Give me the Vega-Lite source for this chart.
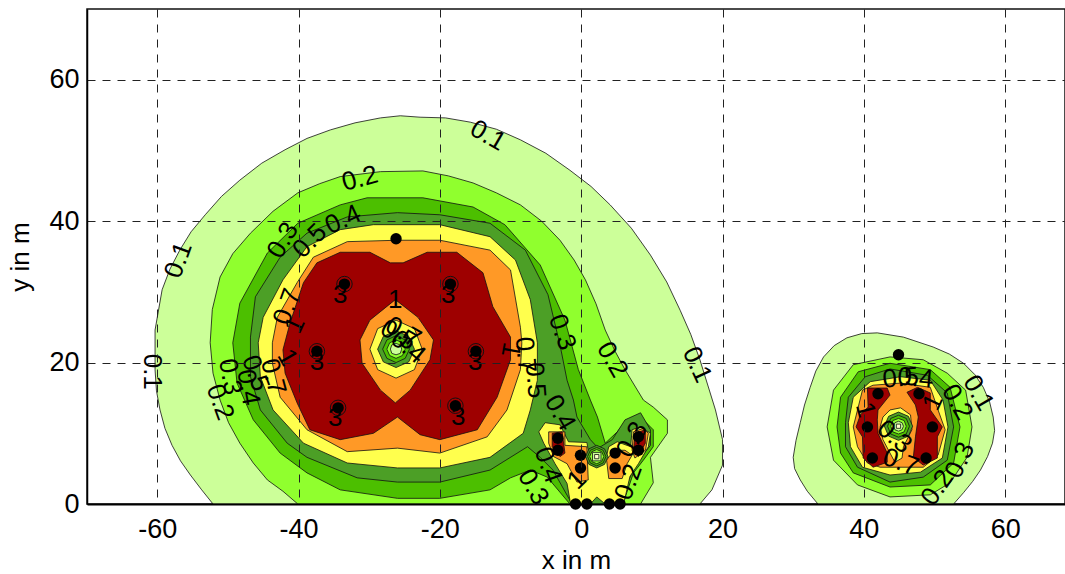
{"$schema":"https://vega.github.io/schema/vega-lite/v6.json","width":978,"height":495,"autosize":"none","padding":{"left":87,"top":9,"right":0,"bottom":70},"background":"white","view":{"stroke":"#111","strokeWidth":1.5,"fill":"white"},
"encoding":{"x":{"field":"x","type":"quantitative","scale":{"domain":[-69.93,68.46],"nice":false,"zero":false},"axis":{"values":[-60,-40,-20,0,20,40,60],"grid":true,"gridColor":"#222","gridDash":[8,7],"gridWidth":1,"ticks":false,"labelExpr":"''+datum.value","labelFontSize":27,"labelFont":"Liberation Sans","labelColor":"#000","labelPadding":12,"title":"x in m","titleFont":"Liberation Sans","titleFontSize":26,"titleFontWeight":"normal","titleColor":"#000","titlePadding":5,"domainColor":"#000","domainWidth":2,"zindex":1}},
"y":{"field":"y","type":"quantitative","scale":{"domain":[0,70],"nice":false,"zero":false},"axis":{"values":[0,20,40,60],"grid":true,"gridColor":"#222","gridDash":[8,7],"gridWidth":1,"ticks":false,"labelExpr":"''+datum.value","labelFontSize":27,"labelFont":"Liberation Sans","labelColor":"#000","labelPadding":8,"title":"y in m","titleFont":"Liberation Sans","titleFontSize":26,"titleFontWeight":"normal","titleColor":"#000","titlePadding":15,"domainColor":"#000","domainWidth":1.5,"zindex":1}}},
"layer":[
{"mark":{"type":"line","interpolate":"linear-closed","stroke":"#111","strokeWidth":0.8,"clip":false,"order":null},
"encoding":{"detail":{"field":"p"},"fill":{"field":"l","type":"nominal","legend":null,"scale":{"domain":["0.1","0.2","0.3","0.4","0.5","0.7","1","0"],"range":["#CCFF99","#90FF2E","#4CBF00","#4C9F26","#FFFF4D","#FF9926","#9E0000","#FFFFCC"]}}},
"data":{"values":[
{"p":"A1","l":"0.1","x":-52.1,"y":0},{"p":"A1","l":"0.1","x":-53.7,"y":2},{"p":"A1","l":"0.1","x":-55.3,"y":4.1},{"p":"A1","l":"0.1","x":-56.7,"y":6.1},{"p":"A1","l":"0.1","x":-57.9,"y":8.3},{"p":"A1","l":"0.1","x":-58.9,"y":10.7},{"p":"A1","l":"0.1","x":-59.6,"y":13.3},{"p":"A1","l":"0.1","x":-60.1,"y":16},{"p":"A1","l":"0.1","x":-60.3,"y":19.0},{"p":"A1","l":"0.1","x":-60.3,"y":24.6},{"p":"A1","l":"0.1","x":-59.3,"y":30.3},{"p":"A1","l":"0.1","x":-58.2,"y":33.2},{"p":"A1","l":"0.1","x":-56.8,"y":35.9},{"p":"A1","l":"0.1","x":-55.2,"y":38.5},{"p":"A1","l":"0.1","x":-53.2,"y":40.9},{"p":"A1","l":"0.1","x":-50.9,"y":43.5},{"p":"A1","l":"0.1","x":-48.3,"y":45.8},{"p":"A1","l":"0.1","x":-45.2,"y":48.2},{"p":"A1","l":"0.1","x":-41.9,"y":50.1},{"p":"A1","l":"0.1","x":-38.8,"y":51.7},{"p":"A1","l":"0.1","x":-35.5,"y":52.9},{"p":"A1","l":"0.1","x":-32,"y":53.9},{"p":"A1","l":"0.1","x":-28.4,"y":54.6},{"p":"A1","l":"0.1","x":-25.6,"y":54.9},{"p":"A1","l":"0.1","x":-22.8,"y":54.7},{"p":"A1","l":"0.1","x":-19.2,"y":54.6},{"p":"A1","l":"0.1","x":-15.7,"y":54.0},{"p":"A1","l":"0.1","x":-12,"y":53},{"p":"A1","l":"0.1","x":-8.6,"y":51.5},{"p":"A1","l":"0.1","x":-5,"y":49.6},{"p":"A1","l":"0.1","x":-1.6,"y":47.2},{"p":"A1","l":"0.1","x":1.4,"y":44.9},{"p":"A1","l":"0.1","x":4.1,"y":42.3},{"p":"A1","l":"0.1","x":7.1,"y":39},{"p":"A1","l":"0.1","x":9.8,"y":35.2},{"p":"A1","l":"0.1","x":12.1,"y":31.4},{"p":"A1","l":"0.1","x":14.0,"y":27.4},{"p":"A1","l":"0.1","x":15.5,"y":24},{"p":"A1","l":"0.1","x":16.8,"y":20.4},{"p":"A1","l":"0.1","x":19.0,"y":13.3},{"p":"A1","l":"0.1","x":20.0,"y":9.1},{"p":"A1","l":"0.1","x":20.0,"y":5.5},{"p":"A1","l":"0.1","x":18.5,"y":2.0},{"p":"A1","l":"0.1","x":16.8,"y":0},
{"p":"A2","l":"0.2","x":-40.1,"y":0},{"p":"A2","l":"0.2","x":-42.2,"y":1.8},{"p":"A2","l":"0.2","x":-44.4,"y":3.4},{"p":"A2","l":"0.2","x":-46.4,"y":5.8},{"p":"A2","l":"0.2","x":-48.3,"y":8.6},{"p":"A2","l":"0.2","x":-49.9,"y":11.5},{"p":"A2","l":"0.2","x":-51.1,"y":14.7},{"p":"A2","l":"0.2","x":-52.1,"y":18.5},{"p":"A2","l":"0.2","x":-52.5,"y":22.8},{"p":"A2","l":"0.2","x":-52.2,"y":27.5},{"p":"A2","l":"0.2","x":-51.1,"y":32.1},{"p":"A2","l":"0.2","x":-49.3,"y":35.4},{"p":"A2","l":"0.2","x":-46.8,"y":38.3},{"p":"A2","l":"0.2","x":-43.6,"y":41.4},{"p":"A2","l":"0.2","x":-40.1,"y":44.0},{"p":"A2","l":"0.2","x":-37,"y":45.3},{"p":"A2","l":"0.2","x":-34.1,"y":46.3},{"p":"A2","l":"0.2","x":-28.4,"y":47.0},{"p":"A2","l":"0.2","x":-22.4,"y":47.1},{"p":"A2","l":"0.2","x":-18.8,"y":46.4},{"p":"A2","l":"0.2","x":-15.3,"y":45.4},{"p":"A2","l":"0.2","x":-12,"y":44},{"p":"A2","l":"0.2","x":-8.6,"y":42.3},{"p":"A2","l":"0.2","x":-5.6,"y":40},{"p":"A2","l":"0.2","x":-3.0,"y":37.3},{"p":"A2","l":"0.2","x":-1,"y":34.5},{"p":"A2","l":"0.2","x":0.6,"y":31.7},{"p":"A2","l":"0.2","x":2.1,"y":28.3},{"p":"A2","l":"0.2","x":3.4,"y":24.6},{"p":"A2","l":"0.2","x":4.8,"y":21.6},{"p":"A2","l":"0.2","x":6.2,"y":19.0},{"p":"A2","l":"0.2","x":8.8,"y":14.7},{"p":"A2","l":"0.2","x":10.2,"y":13.7},{"p":"A2","l":"0.2","x":12.2,"y":11.9},{"p":"A2","l":"0.2","x":12.2,"y":10.0},{"p":"A2","l":"0.2","x":9.8,"y":6.6},{"p":"A2","l":"0.2","x":10.2,"y":3.0},{"p":"A2","l":"0.2","x":8.4,"y":0},
{"p":"A3","l":"0.3","x":-49.3,"y":22.8},{"p":"A3","l":"0.3","x":-48.3,"y":28.4},{"p":"A3","l":"0.3","x":-44.4,"y":35.5},{"p":"A3","l":"0.3","x":-40.1,"y":39.7},{"p":"A3","l":"0.3","x":-34.1,"y":42.3},{"p":"A3","l":"0.3","x":-30.3,"y":43.3},{"p":"A3","l":"0.3","x":-22.4,"y":43.3},{"p":"A3","l":"0.3","x":-15.3,"y":42.0},{"p":"A3","l":"0.3","x":-10.8,"y":39.5},{"p":"A3","l":"0.3","x":-5.8,"y":33.8},{"p":"A3","l":"0.3","x":-2.3,"y":26.0},{"p":"A3","l":"0.3","x":-0.4,"y":19.0},{"p":"A3","l":"0.3","x":1.3,"y":14.7},{"p":"A3","l":"0.3","x":2.3,"y":12.3},{"p":"A3","l":"0.3","x":3.4,"y":8.6},{"p":"A3","l":"0.3","x":5.1,"y":10.2},{"p":"A3","l":"0.3","x":6.5,"y":11.9},{"p":"A3","l":"0.3","x":8.4,"y":12.3},{"p":"A3","l":"0.3","x":10.2,"y":10.5},{"p":"A3","l":"0.3","x":10.2,"y":8.1},{"p":"A3","l":"0.3","x":8.8,"y":6.2},{"p":"A3","l":"0.3","x":7.4,"y":4.4},{"p":"A3","l":"0.3","x":5.9,"y":0},{"p":"A3","l":"0.3","x":-1.6,"y":0},{"p":"A3","l":"0.3","x":-4.8,"y":3.8},{"p":"A3","l":"0.3","x":-7.2,"y":4.8},{"p":"A3","l":"0.3","x":-10.0,"y":3.7},{"p":"A3","l":"0.3","x":-12.9,"y":2.0},{"p":"A3","l":"0.3","x":-20.0,"y":0.8},{"p":"A3","l":"0.3","x":-26.0,"y":0.8},{"p":"A3","l":"0.3","x":-34.1,"y":2.0},{"p":"A3","l":"0.3","x":-38.8,"y":4.4},{"p":"A3","l":"0.3","x":-42.6,"y":7.2},{"p":"A3","l":"0.3","x":-46.4,"y":11.9},{"p":"A3","l":"0.3","x":-48.7,"y":17.1},
{"p":"A4","l":"0.4","x":-46.8,"y":23.6},{"p":"A4","l":"0.4","x":-46.1,"y":29.3},{"p":"A4","l":"0.4","x":-42.6,"y":34.9},{"p":"A4","l":"0.4","x":-38.8,"y":38.3},{"p":"A4","l":"0.4","x":-33.1,"y":40.6},{"p":"A4","l":"0.4","x":-26.0,"y":41.2},{"p":"A4","l":"0.4","x":-20.0,"y":40.9},{"p":"A4","l":"0.4","x":-12.9,"y":39.7},{"p":"A4","l":"0.4","x":-7.9,"y":35.9},{"p":"A4","l":"0.4","x":-4.7,"y":29.6},{"p":"A4","l":"0.4","x":-3.0,"y":22.5},{"p":"A4","l":"0.4","x":-2.0,"y":17.5},{"p":"A4","l":"0.4","x":-1.1,"y":14.7},{"p":"A4","l":"0.4","x":-0.6,"y":12.3},{"p":"A4","l":"0.4","x":1.3,"y":9.1},{"p":"A4","l":"0.4","x":2.4,"y":7.9},{"p":"A4","l":"0.4","x":4.4,"y":9.1},{"p":"A4","l":"0.4","x":6.2,"y":11.9},{"p":"A4","l":"0.4","x":8.4,"y":12.9},{"p":"A4","l":"0.4","x":9.8,"y":10.5},{"p":"A4","l":"0.4","x":9.8,"y":8.3},{"p":"A4","l":"0.4","x":7.6,"y":5.5},{"p":"A4","l":"0.4","x":6.2,"y":2.0},{"p":"A4","l":"0.4","x":5.2,"y":0},{"p":"A4","l":"0.4","x":-1.3,"y":0},{"p":"A4","l":"0.4","x":-4.0,"y":4.8},{"p":"A4","l":"0.4","x":-5.8,"y":6.6},{"p":"A4","l":"0.4","x":-7.6,"y":8.1},{"p":"A4","l":"0.4","x":-12.9,"y":4.8},{"p":"A4","l":"0.4","x":-20.0,"y":3.1},{"p":"A4","l":"0.4","x":-26.0,"y":3.1},{"p":"A4","l":"0.4","x":-31.7,"y":3.7},{"p":"A4","l":"0.4","x":-38.8,"y":6.6},{"p":"A4","l":"0.4","x":-41.6,"y":8.6},{"p":"A4","l":"0.4","x":-45.4,"y":13.3},{"p":"A4","l":"0.4","x":-46.8,"y":18.0},
{"p":"A5","l":"0.5","x":-45.7,"y":22.8},{"p":"A5","l":"0.5","x":-45.0,"y":26.4},{"p":"A5","l":"0.5","x":-42.2,"y":31.7},{"p":"A5","l":"0.5","x":-38.8,"y":36.4},{"p":"A5","l":"0.5","x":-34.1,"y":38.8},{"p":"A5","l":"0.5","x":-29.4,"y":39.5},{"p":"A5","l":"0.5","x":-20.0,"y":39.5},{"p":"A5","l":"0.5","x":-12.9,"y":37.8},{"p":"A5","l":"0.5","x":-9.3,"y":34.5},{"p":"A5","l":"0.5","x":-7.2,"y":28.9},{"p":"A5","l":"0.5","x":-6.2,"y":22.8},{"p":"A5","l":"0.5","x":-6.2,"y":17.5},{"p":"A5","l":"0.5","x":-7.2,"y":13.3},{"p":"A5","l":"0.5","x":-8.2,"y":10.0},{"p":"A5","l":"0.5","x":-12.9,"y":6.6},{"p":"A5","l":"0.5","x":-20.0,"y":5.1},{"p":"A5","l":"0.5","x":-26.0,"y":5.1},{"p":"A5","l":"0.5","x":-33.1,"y":5.8},{"p":"A5","l":"0.5","x":-39.3,"y":8.6},{"p":"A5","l":"0.5","x":-43.6,"y":13.3},{"p":"A5","l":"0.5","x":-45.4,"y":18.0},
{"p":"A6","l":"0.7","x":-43.7,"y":22.8},{"p":"A6","l":"0.7","x":-43.0,"y":26.4},{"p":"A6","l":"0.7","x":-40.2,"y":31.3},{"p":"A6","l":"0.7","x":-37.9,"y":34.9},{"p":"A6","l":"0.7","x":-33.1,"y":37.1},{"p":"A6","l":"0.7","x":-26.0,"y":37.3},{"p":"A6","l":"0.7","x":-20.0,"y":37.3},{"p":"A6","l":"0.7","x":-12.9,"y":35.9},{"p":"A6","l":"0.7","x":-10.0,"y":33.1},{"p":"A6","l":"0.7","x":-8.6,"y":25.0},{"p":"A6","l":"0.7","x":-8.4,"y":22.8},{"p":"A6","l":"0.7","x":-8.6,"y":19.0},{"p":"A6","l":"0.7","x":-10.5,"y":13.3},{"p":"A6","l":"0.7","x":-13.3,"y":9.5},{"p":"A6","l":"0.7","x":-20.0,"y":7.2},{"p":"A6","l":"0.7","x":-26.0,"y":7.9},{"p":"A6","l":"0.7","x":-33.1,"y":7.4},{"p":"A6","l":"0.7","x":-38.8,"y":10.5},{"p":"A6","l":"0.7","x":-42.6,"y":15.1},{"p":"A6","l":"0.7","x":-43.7,"y":19.9},
{"p":"A7","l":"1","x":-42.2,"y":21.8},{"p":"A7","l":"1","x":-41.2,"y":25.6},{"p":"A7","l":"1","x":-39.3,"y":31.3},{"p":"A7","l":"1","x":-37.4,"y":34.1},{"p":"A7","l":"1","x":-34.1,"y":35.6},{"p":"A7","l":"1","x":-29.9,"y":35.6},{"p":"A7","l":"1","x":-27.0,"y":34.1},{"p":"A7","l":"1","x":-25.2,"y":34.1},{"p":"A7","l":"1","x":-21.8,"y":35.6},{"p":"A7","l":"1","x":-17.6,"y":35.6},{"p":"A7","l":"1","x":-13.9,"y":32.7},{"p":"A7","l":"1","x":-12.5,"y":27.9},{"p":"A7","l":"1","x":-10.0,"y":23.6},{"p":"A7","l":"1","x":-10.0,"y":20.4},{"p":"A7","l":"1","x":-11.9,"y":15.1},{"p":"A7","l":"1","x":-14.7,"y":10.5},{"p":"A7","l":"1","x":-20.0,"y":9.1},{"p":"A7","l":"1","x":-22.8,"y":9.8},{"p":"A7","l":"1","x":-26.0,"y":12.3},{"p":"A7","l":"1","x":-29.4,"y":10.0},{"p":"A7","l":"1","x":-34.1,"y":9.1},{"p":"A7","l":"1","x":-38.4,"y":10.5},{"p":"A7","l":"1","x":-40.2,"y":14.3},{"p":"A7","l":"1","x":-41.9,"y":18.5},
{"p":"A8","l":"0.7","x":-26.3,"y":28.9},{"p":"A8","l":"0.7","x":-29.9,"y":26.0},{"p":"A8","l":"0.7","x":-31.3,"y":23.2},{"p":"A8","l":"0.7","x":-31.0,"y":19.9},{"p":"A8","l":"0.7","x":-28.4,"y":16.1},{"p":"A8","l":"0.7","x":-26.3,"y":14.3},{"p":"A8","l":"0.7","x":-24.2,"y":16.1},{"p":"A8","l":"0.7","x":-21.4,"y":20.4},{"p":"A8","l":"0.7","x":-20.9,"y":23.2},{"p":"A8","l":"0.7","x":-23.1,"y":26.4},
{"p":"A9","l":"0.5","x":-26.2,"y":26.0},{"p":"A9","l":"0.5","x":-23.6,"y":24.8},{"p":"A9","l":"0.5","x":-22.5,"y":21.9},{"p":"A9","l":"0.5","x":-23.6,"y":19.0},{"p":"A9","l":"0.5","x":-26.2,"y":17.8},{"p":"A9","l":"0.5","x":-28.8,"y":19.0},{"p":"A9","l":"0.5","x":-29.9,"y":21.9},{"p":"A9","l":"0.5","x":-28.8,"y":24.8},
{"p":"A10","l":"0.4","x":-26.2,"y":24.5},{"p":"A10","l":"0.4","x":-24.4,"y":23.7},{"p":"A10","l":"0.4","x":-23.6,"y":21.9},{"p":"A10","l":"0.4","x":-24.4,"y":20.1},{"p":"A10","l":"0.4","x":-26.2,"y":19.3},{"p":"A10","l":"0.4","x":-28.0,"y":20.1},{"p":"A10","l":"0.4","x":-28.8,"y":21.9},{"p":"A10","l":"0.4","x":-28.0,"y":23.7},
{"p":"A11","l":"0.3","x":-26.2,"y":23.8},{"p":"A11","l":"0.3","x":-24.9,"y":23.2},{"p":"A11","l":"0.3","x":-24.3,"y":21.9},{"p":"A11","l":"0.3","x":-24.9,"y":20.6},{"p":"A11","l":"0.3","x":-26.2,"y":20.0},{"p":"A11","l":"0.3","x":-27.5,"y":20.6},{"p":"A11","l":"0.3","x":-28.1,"y":21.9},{"p":"A11","l":"0.3","x":-27.5,"y":23.2},
{"p":"A12","l":"0.2","x":-26.2,"y":23.2},{"p":"A12","l":"0.2","x":-25.3,"y":22.8},{"p":"A12","l":"0.2","x":-24.9,"y":21.9},{"p":"A12","l":"0.2","x":-25.3,"y":21.0},{"p":"A12","l":"0.2","x":-26.2,"y":20.6},{"p":"A12","l":"0.2","x":-27.1,"y":21.0},{"p":"A12","l":"0.2","x":-27.5,"y":21.9},{"p":"A12","l":"0.2","x":-27.1,"y":22.8},
{"p":"A13","l":"0.1","x":-26.2,"y":22.7},{"p":"A13","l":"0.1","x":-25.6,"y":22.5},{"p":"A13","l":"0.1","x":-25.4,"y":21.9},{"p":"A13","l":"0.1","x":-25.6,"y":21.3},{"p":"A13","l":"0.1","x":-26.2,"y":21.1},{"p":"A13","l":"0.1","x":-26.8,"y":21.3},{"p":"A13","l":"0.1","x":-27.0,"y":21.9},{"p":"A13","l":"0.1","x":-26.8,"y":22.5},
{"p":"C1","l":"0.5","x":-6.0,"y":10.2},{"p":"C1","l":"0.5","x":-5.1,"y":11.5},{"p":"C1","l":"0.5","x":-3.0,"y":11.2},{"p":"C1","l":"0.5","x":-1.8,"y":8.8},{"p":"C1","l":"0.5","x":0.8,"y":8.7},{"p":"C1","l":"0.5","x":1.3,"y":6.0},{"p":"C1","l":"0.5","x":3.4,"y":6.0},{"p":"C1","l":"0.5","x":3.9,"y":8.1},{"p":"C1","l":"0.5","x":5.1,"y":8.8},{"p":"C1","l":"0.5","x":7.0,"y":8.1},{"p":"C1","l":"0.5","x":7.2,"y":10.5},{"p":"C1","l":"0.5","x":8.4,"y":10.9},{"p":"C1","l":"0.5","x":9.8,"y":10.0},{"p":"C1","l":"0.5","x":9.5,"y":8.1},{"p":"C1","l":"0.5","x":8.1,"y":5.7},{"p":"C1","l":"0.5","x":6.9,"y":3.9},{"p":"C1","l":"0.5","x":6.0,"y":0},{"p":"C1","l":"0.5","x":-1.5,"y":0},{"p":"C1","l":"0.5","x":-2.0,"y":2.9},{"p":"C1","l":"0.5","x":-3.7,"y":5.7},{"p":"C1","l":"0.5","x":-5.3,"y":8.6},
{"p":"C2","l":"0.4","x":1.3,"y":0},{"p":"C2","l":"0.4","x":2.2,"y":1.0},{"p":"C2","l":"0.4","x":3.4,"y":0},
{"p":"C3","l":"0.7","x":-4.6,"y":10.2},{"p":"C3","l":"0.7","x":-2.3,"y":10.2},{"p":"C3","l":"0.7","x":-2.3,"y":8.3},{"p":"C3","l":"0.7","x":0.8,"y":8.1},{"p":"C3","l":"0.7","x":1.0,"y":3.4},{"p":"C3","l":"0.7","x":-0.6,"y":3.1},{"p":"C3","l":"0.7","x":-2.0,"y":5.7},{"p":"C3","l":"0.7","x":-3.9,"y":6.7},{"p":"C3","l":"0.7","x":-4.6,"y":8.6},
{"p":"C4","l":"0.7","x":3.6,"y":6.2},{"p":"C4","l":"0.7","x":4.6,"y":7.6},{"p":"C4","l":"0.7","x":6.2,"y":7.6},{"p":"C4","l":"0.7","x":7.2,"y":6.9},{"p":"C4","l":"0.7","x":6.5,"y":5.7},{"p":"C4","l":"0.7","x":5.8,"y":3.6},{"p":"C4","l":"0.7","x":3.9,"y":3.6},
{"p":"C5","l":"0.7","x":7.4,"y":10.2},{"p":"C5","l":"0.7","x":8.8,"y":10.7},{"p":"C5","l":"0.7","x":9.5,"y":10.0},{"p":"C5","l":"0.7","x":9.1,"y":7.6},{"p":"C5","l":"0.7","x":7.6,"y":6.5},{"p":"C5","l":"0.7","x":7.2,"y":7.6},
{"p":"C6","l":"1","x":-4.1,"y":10.0},{"p":"C6","l":"1","x":-2.7,"y":10.2},{"p":"C6","l":"1","x":-2.3,"y":7.2},{"p":"C6","l":"1","x":-3.0,"y":6.7},{"p":"C6","l":"1","x":-4.1,"y":8.1},
{"p":"C7","l":"1","x":7.65,"y":10.0},{"p":"C7","l":"1","x":9.07,"y":10.5},{"p":"C7","l":"1","x":9.07,"y":8.6},{"p":"C7","l":"1","x":8.1,"y":6.7},{"p":"C7","l":"1","x":7.4,"y":7.6},
{"p":"C8","l":"0.4","x":2.2,"y":8.3},{"p":"C8","l":"0.4","x":3.3,"y":7.8},{"p":"C8","l":"0.4","x":3.8,"y":6.7},{"p":"C8","l":"0.4","x":3.3,"y":5.6},{"p":"C8","l":"0.4","x":2.2,"y":5.1},{"p":"C8","l":"0.4","x":1.1,"y":5.6},{"p":"C8","l":"0.4","x":0.6,"y":6.7},{"p":"C8","l":"0.4","x":1.1,"y":7.8},
{"p":"C9","l":"0.3","x":2.2,"y":8.0},{"p":"C9","l":"0.3","x":3.1,"y":7.6},{"p":"C9","l":"0.3","x":3.5,"y":6.7},{"p":"C9","l":"0.3","x":3.1,"y":5.8},{"p":"C9","l":"0.3","x":2.2,"y":5.4},{"p":"C9","l":"0.3","x":1.3,"y":5.8},{"p":"C9","l":"0.3","x":0.9,"y":6.7},{"p":"C9","l":"0.3","x":1.3,"y":7.6},
{"p":"C10","l":"0.2","x":2.2,"y":7.7},{"p":"C10","l":"0.2","x":2.9,"y":7.4},{"p":"C10","l":"0.2","x":3.2,"y":6.7},{"p":"C10","l":"0.2","x":2.9,"y":6.0},{"p":"C10","l":"0.2","x":2.2,"y":5.7},{"p":"C10","l":"0.2","x":1.5,"y":6.0},{"p":"C10","l":"0.2","x":1.2,"y":6.7},{"p":"C10","l":"0.2","x":1.5,"y":7.4},
{"p":"C11","l":"0.1","x":1.6,"y":7.3},{"p":"C11","l":"0.1","x":2.8,"y":7.3},{"p":"C11","l":"0.1","x":2.8,"y":6.1},{"p":"C11","l":"0.1","x":1.6,"y":6.1},
{"p":"C12","l":"0","x":1.9,"y":7.0},{"p":"C12","l":"0","x":2.5,"y":7.0},{"p":"C12","l":"0","x":2.5,"y":6.4},{"p":"C12","l":"0","x":1.9,"y":6.4},
{"p":"E1","l":"0.1","x":33.5,"y":0},{"p":"E1","l":"0.1","x":32,"y":1.8},{"p":"E1","l":"0.1","x":31.0,"y":3.4},{"p":"E1","l":"0.1","x":30.2,"y":5},{"p":"E1","l":"0.1","x":30.0,"y":6.6},{"p":"E1","l":"0.1","x":30.4,"y":9},{"p":"E1","l":"0.1","x":31.0,"y":11.5},{"p":"E1","l":"0.1","x":31.6,"y":14},{"p":"E1","l":"0.1","x":32.4,"y":16.5},{"p":"E1","l":"0.1","x":33.2,"y":18.8},{"p":"E1","l":"0.1","x":34.3,"y":20.8},{"p":"E1","l":"0.1","x":35.8,"y":22.4},{"p":"E1","l":"0.1","x":37.6,"y":23.5},{"p":"E1","l":"0.1","x":39.7,"y":24.1},{"p":"E1","l":"0.1","x":41.9,"y":24.2},{"p":"E1","l":"0.1","x":45.6,"y":23.6},{"p":"E1","l":"0.1","x":49.8,"y":22.2},{"p":"E1","l":"0.1","x":52.1,"y":21.2},{"p":"E1","l":"0.1","x":54.1,"y":19.9},{"p":"E1","l":"0.1","x":55.7,"y":18.3},{"p":"E1","l":"0.1","x":56.9,"y":16.5},{"p":"E1","l":"0.1","x":57.8,"y":14.4},{"p":"E1","l":"0.1","x":58.3,"y":12.3},{"p":"E1","l":"0.1","x":58.5,"y":10.4},{"p":"E1","l":"0.1","x":58.2,"y":8.6},{"p":"E1","l":"0.1","x":57.5,"y":6.7},{"p":"E1","l":"0.1","x":56.5,"y":4.8},{"p":"E1","l":"0.1","x":55.4,"y":3.2},{"p":"E1","l":"0.1","x":54.1,"y":1.6},{"p":"E1","l":"0.1","x":52.7,"y":0},
{"p":"E2","l":"0.2","x":34.8,"y":10.9},{"p":"E2","l":"0.2","x":35.7,"y":16.1},{"p":"E2","l":"0.2","x":38.5,"y":19.7},{"p":"E2","l":"0.2","x":43.7,"y":20.8},{"p":"E2","l":"0.2","x":48.4,"y":20.4},{"p":"E2","l":"0.2","x":51.8,"y":18.5},{"p":"E2","l":"0.2","x":54.4,"y":16.1},{"p":"E2","l":"0.2","x":55.3,"y":10.9},{"p":"E2","l":"0.2","x":54.6,"y":6.6},{"p":"E2","l":"0.2","x":52.2,"y":3.0},{"p":"E2","l":"0.2","x":49.4,"y":1.3},{"p":"E2","l":"0.2","x":43.7,"y":1.0},{"p":"E2","l":"0.2","x":39.1,"y":2.7},{"p":"E2","l":"0.2","x":35.7,"y":6.2},
{"p":"E3","l":"0.3","x":36.2,"y":10.9},{"p":"E3","l":"0.3","x":36.7,"y":15.1},{"p":"E3","l":"0.3","x":39.2,"y":18.7},{"p":"E3","l":"0.3","x":43.7,"y":19.9},{"p":"E3","l":"0.3","x":49.4,"y":19.0},{"p":"E3","l":"0.3","x":52.2,"y":16.5},{"p":"E3","l":"0.3","x":53.6,"y":10.9},{"p":"E3","l":"0.3","x":52.7,"y":5.8},{"p":"E3","l":"0.3","x":49.4,"y":2.7},{"p":"E3","l":"0.3","x":43.7,"y":2.4},{"p":"E3","l":"0.3","x":38.5,"y":4.4},{"p":"E3","l":"0.3","x":36.7,"y":7.2},
{"p":"E4","l":"0.4","x":37.4,"y":11.5},{"p":"E4","l":"0.4","x":37.8,"y":15.1},{"p":"E4","l":"0.4","x":40.2,"y":18.0},{"p":"E4","l":"0.4","x":43.7,"y":19.1},{"p":"E4","l":"0.4","x":49.0,"y":18.2},{"p":"E4","l":"0.4","x":51.8,"y":15.7},{"p":"E4","l":"0.4","x":52.7,"y":10.9},{"p":"E4","l":"0.4","x":51.8,"y":6.2},{"p":"E4","l":"0.4","x":48.4,"y":3.8},{"p":"E4","l":"0.4","x":43.7,"y":3.1},{"p":"E4","l":"0.4","x":39.1,"y":5.2},{"p":"E4","l":"0.4","x":37.4,"y":8.1},
{"p":"E5","l":"0.5","x":37.8,"y":11.5},{"p":"E5","l":"0.5","x":38.5,"y":15.1},{"p":"E5","l":"0.5","x":40.9,"y":17.3},{"p":"E5","l":"0.5","x":45.2,"y":18.0},{"p":"E5","l":"0.5","x":49.4,"y":17.5},{"p":"E5","l":"0.5","x":51.2,"y":14.7},{"p":"E5","l":"0.5","x":51.9,"y":10.9},{"p":"E5","l":"0.5","x":51.1,"y":6.5},{"p":"E5","l":"0.5","x":48.0,"y":4.5},{"p":"E5","l":"0.5","x":43.7,"y":4.1},{"p":"E5","l":"0.5","x":39.8,"y":5.2},{"p":"E5","l":"0.5","x":38.1,"y":8.1},
{"p":"E6","l":"0.7","x":38.5,"y":10.9},{"p":"E6","l":"0.7","x":39.8,"y":16.1},{"p":"E6","l":"0.7","x":41.3,"y":16.8},{"p":"E6","l":"0.7","x":45.2,"y":17.1},{"p":"E6","l":"0.7","x":49.4,"y":16.5},{"p":"E6","l":"0.7","x":50.5,"y":13.3},{"p":"E6","l":"0.7","x":51.5,"y":10.5},{"p":"E6","l":"0.7","x":50.5,"y":6.9},{"p":"E6","l":"0.7","x":48.4,"y":5.2},{"p":"E6","l":"0.7","x":42.3,"y":5.2},{"p":"E6","l":"0.7","x":40.5,"y":5.8},{"p":"E6","l":"0.7","x":39.1,"y":8.1},
{"p":"E7","l":"1","x":40.5,"y":16.4},{"p":"E7","l":"1","x":43.3,"y":16.4},{"p":"E7","l":"1","x":43.7,"y":15.4},{"p":"E7","l":"1","x":42.0,"y":13.3},{"p":"E7","l":"1","x":41.9,"y":11.9},{"p":"E7","l":"1","x":42.0,"y":10.0},{"p":"E7","l":"1","x":43.3,"y":7.2},{"p":"E7","l":"1","x":43.3,"y":5.9},{"p":"E7","l":"1","x":41.3,"y":5.2},{"p":"E7","l":"1","x":39.9,"y":6.5},{"p":"E7","l":"1","x":39.8,"y":9.5},{"p":"E7","l":"1","x":38.9,"y":10.9},{"p":"E7","l":"1","x":39.5,"y":12.6},{"p":"E7","l":"1","x":40.6,"y":13.7},
{"p":"E8","l":"1","x":46.1,"y":15.8},{"p":"E8","l":"1","x":47.6,"y":16.5},{"p":"E8","l":"1","x":49.4,"y":15.7},{"p":"E8","l":"1","x":49.4,"y":13.3},{"p":"E8","l":"1","x":51.1,"y":10.9},{"p":"E8","l":"1","x":50.4,"y":9.5},{"p":"E8","l":"1","x":50.4,"y":6.5},{"p":"E8","l":"1","x":48.4,"y":5.5},{"p":"E8","l":"1","x":47.0,"y":6.6},{"p":"E8","l":"1","x":47.3,"y":9.5},{"p":"E8","l":"1","x":47.7,"y":12.3},{"p":"E8","l":"1","x":47.3,"y":14.0},
{"p":"E9","l":"0.5","x":43.7,"y":13.3},{"p":"E9","l":"0.5","x":45.2,"y":13.6},{"p":"E9","l":"0.5","x":46.6,"y":12.6},{"p":"E9","l":"0.5","x":46.8,"y":10.5},{"p":"E9","l":"0.5","x":45.6,"y":8.1},{"p":"E9","l":"0.5","x":45.4,"y":6.5},{"p":"E9","l":"0.5","x":44.4,"y":5.9},{"p":"E9","l":"0.5","x":43.7,"y":7.2},{"p":"E9","l":"0.5","x":42.7,"y":9.1},{"p":"E9","l":"0.5","x":42.3,"y":10.9},{"p":"E9","l":"0.5","x":42.7,"y":12.3},
{"p":"E10","l":"0.4","x":44.9,"y":13},{"p":"E10","l":"0.4","x":46.3,"y":12.4},{"p":"E10","l":"0.4","x":46.9,"y":11},{"p":"E10","l":"0.4","x":46.3,"y":9.6},{"p":"E10","l":"0.4","x":44.9,"y":9},{"p":"E10","l":"0.4","x":43.5,"y":9.6},{"p":"E10","l":"0.4","x":42.9,"y":11},{"p":"E10","l":"0.4","x":43.5,"y":12.4},
{"p":"E11","l":"0.3","x":44.9,"y":12.55},{"p":"E11","l":"0.3","x":46,"y":12.1},{"p":"E11","l":"0.3","x":46.45,"y":11},{"p":"E11","l":"0.3","x":46,"y":9.9},{"p":"E11","l":"0.3","x":44.9,"y":9.45},{"p":"E11","l":"0.3","x":43.8,"y":9.9},{"p":"E11","l":"0.3","x":43.35,"y":11},{"p":"E11","l":"0.3","x":43.8,"y":12.1},
{"p":"E12","l":"0.2","x":44.9,"y":12.1},{"p":"E12","l":"0.2","x":45.7,"y":11.8},{"p":"E12","l":"0.2","x":46,"y":11},{"p":"E12","l":"0.2","x":45.7,"y":10.2},{"p":"E12","l":"0.2","x":44.9,"y":9.9},{"p":"E12","l":"0.2","x":44.1,"y":10.2},{"p":"E12","l":"0.2","x":43.8,"y":11},{"p":"E12","l":"0.2","x":44.1,"y":11.8},
{"p":"E13","l":"0.1","x":44.9,"y":11.7},{"p":"E13","l":"0.1","x":45.4,"y":11.5},{"p":"E13","l":"0.1","x":45.6,"y":11},{"p":"E13","l":"0.1","x":45.4,"y":10.5},{"p":"E13","l":"0.1","x":44.9,"y":10.3},{"p":"E13","l":"0.1","x":44.4,"y":10.5},{"p":"E13","l":"0.1","x":44.2,"y":11},{"p":"E13","l":"0.1","x":44.4,"y":11.5},
{"p":"E14","l":"0","x":44.6,"y":11.3},{"p":"E14","l":"0","x":45.2,"y":11.3},{"p":"E14","l":"0","x":45.2,"y":10.7},{"p":"E14","l":"0","x":44.6,"y":10.7}
]}},
{"data":{"values":[{"x":-33.5,"y":31.1},{"x":-18.5,"y":31.1},{"x":-37.4,"y":21.6},{"x":-14.9,"y":21.6},{"x":-34.4,"y":13.6},{"x":-17.8,"y":13.9}]},
"mark":{"type":"point","filled":false,"stroke":"#111","strokeWidth":1,"size":240,"opacity":1,"clip":false}},
{"data":{"values":[{"x":-26.2,"y":37.5},{"x":-33.5,"y":31.1},{"x":-18.5,"y":31.1},{"x":-37.4,"y":21.6},{"x":-14.9,"y":21.6},{"x":-34.4,"y":13.6},{"x":-17.8,"y":13.9},{"x":44.9,"y":21.1},{"x":42,"y":15.6},{"x":47.8,"y":15.6},{"x":40.5,"y":10.9},{"x":49.7,"y":10.9},{"x":41.2,"y":6.5},{"x":48.8,"y":6.5},{"x":-3.3,"y":9.3},{"x":-3.3,"y":7.6},{"x":-0.1,"y":6.9},{"x":-0.1,"y":5.1},{"x":4.8,"y":7.2},{"x":4.8,"y":5.1},{"x":8.1,"y":9.5},{"x":8.1,"y":7.6},{"x":-0.8,"y":0},{"x":0.8,"y":0},{"x":4,"y":0},{"x":5.5,"y":0}]},
"mark":{"type":"circle","color":"#000","size":130,"opacity":1,"clip":false}},
{"data":{"values":[{"t":"0.1","a":30,"x":-13.2,"y":52.1},{"t":"0.2","a":-15,"x":-31.3,"y":46.0},{"t":"0.1","a":-70,"x":-57.0,"y":34.5},{"t":"0.1","a":90,"x":-60.7,"y":18.7},{"t":"0.2","a":70,"x":-51.1,"y":14.4},{"t":"0.3","a":-60,"x":-42.2,"y":37.3},{"t":"0.4","a":-25,"x":-33.7,"y":40.2},{"t":"0.5","a":-45,"x":-38.4,"y":37.2},{"t":"0.7","a":-70,"x":-41.6,"y":27.9},{"t":"1","a":-65,"x":-40.5,"y":25.3},{"t":"1","a":60,"x":-41.6,"y":20.7},{"t":"0.3","a":80,"x":-49.7,"y":18.0},{"t":"0.4","a":80,"x":-47.1,"y":16.5},{"t":"0.5","a":70,"x":-46.1,"y":18.5},{"t":"0.7","a":75,"x":-43.6,"y":18.0},{"t":"3","a":0,"x":-34.1,"y":29.6},{"t":"3","a":0,"x":-18.8,"y":29.6},{"t":"3","a":0,"x":-37.4,"y":20.1},{"t":"3","a":0,"x":-15.0,"y":20.1},{"t":"3","a":0,"x":-34.8,"y":12.2},{"t":"3","a":0,"x":-17.4,"y":12.3},{"t":"1","a":0,"x":-26.3,"y":28.9},{"t":"0.7","a":30,"x":-25.2,"y":24.3},{"t":"0.5","a":30,"x":-25.9,"y":23.9},{"t":"0.4","a":40,"x":-24.5,"y":22.2},{"t":"0.3","a":70,"x":-2.7,"y":24.3},{"t":"0.2","a":60,"x":4.4,"y":20.4},{"t":"0.1","a":65,"x":16.4,"y":19.7},{"t":"0.7","a":85,"x":-7.9,"y":21.1},{"t":"1","a":100,"x":-10.0,"y":21.8},{"t":"0.5","a":85,"x":-6.5,"y":17.5},{"t":"0.4","a":60,"x":-3.0,"y":12.9},{"t":"0.3","a":60,"x":-6.8,"y":2.4},{"t":"0.4","a":70,"x":-4.7,"y":5.5},{"t":"0.2","a":-70,"x":6.7,"y":3.1},{"t":"0.3","a":-60,"x":7.2,"y":9.1},{"t":"1","a":-45,"x":-0.6,"y":3.4},{"t":"0.5","a":-5,"x":45.2,"y":17.8},{"t":"0.4","a":5,"x":47.3,"y":17.8},{"t":"0.1","a":60,"x":56.2,"y":15.7},{"t":"0.2","a":60,"x":53.2,"y":14.4},{"t":"0.2","a":-55,"x":50.4,"y":2.3},{"t":"0.3","a":-65,"x":53.6,"y":6.2},{"t":"1","a":75,"x":40.2,"y":13.3},{"t":"1","a":-65,"x":49.8,"y":14.4},{"t":"0.3","a":40,"x":44.3,"y":9.5},{"t":"0.7","a":20,"x":45.2,"y":5.9}]},
"mark":{"type":"text","font":"Liberation Sans","fontSize":26,"color":"#000","align":"center","baseline":"middle","clip":false},
"encoding":{"text":{"field":"t"},"angle":{"field":"a","type":"quantitative","scale":null}}}
]}
